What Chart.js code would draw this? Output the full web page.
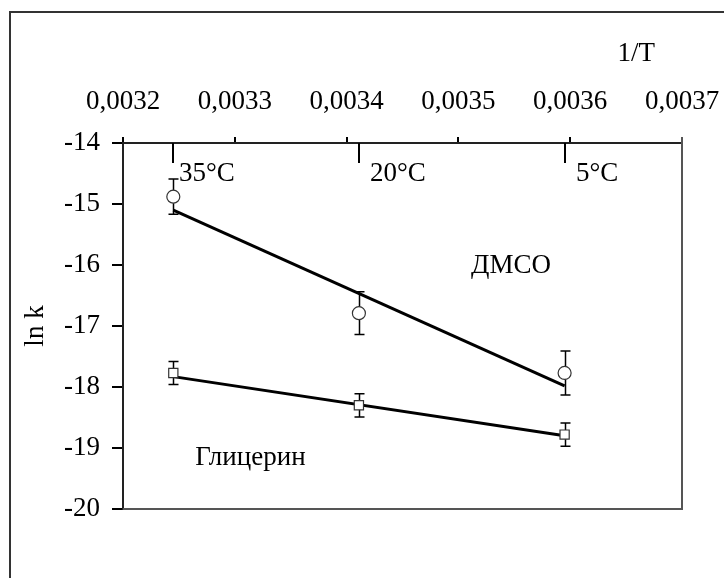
<!DOCTYPE html>
<html>
<head>
<meta charset="utf-8">
<script src="https://cdn.jsdelivr.net/npm/chart.js@4"></script>
<style>
  html, body { margin: 0; padding: 0; background: #fff; overflow: hidden; }
  #wrap { position: relative; width: 724px; height: 578px; }
  #frame { position: absolute; left: 9px; top: 11px; width: 800px; height: 700px;
           border-left: 2px solid #333; border-top: 2px solid #333; pointer-events: none; }
</style>
</head>
<body>
<div id="wrap">
  <canvas id="graph" width="724" height="578"></canvas>
  <div id="frame"></div>
</div>
<script>
// 1/T for the three temperatures
let invT = [0.003245, 0.003411, 0.003595];
let tempLabels = ['35°C', '20°C', '5°C'];

// ДМСО
let dmso = [-14.88, -16.79, -17.77];
let dmsoErr = [0.29, 0.35, 0.36];
let dmsoFit = [-15.10, -17.98];

// Глицерин
let glyc = [-17.77, -18.30, -18.78];
let glycErr = [0.19, 0.19, 0.19];
let glycFit = [-17.83, -18.80];

let xTicks = [0.0032, 0.0033, 0.0034, 0.0035, 0.0036, 0.0037];
let yTicks = [-14, -15, -16, -17, -18, -19, -20];

const serif = "'Liberation Serif', 'Times New Roman', serif";
const fs = 27;
Chart.defaults.font.family = serif;
Chart.defaults.color = '#000';

function pts(ys) { return ys.map((y, i) => ({ x: invT[i], y: y })); }
function fitPts(ys) { return [{ x: invT[0], y: ys[0] }, { x: invT[2], y: ys[1] }]; }

// error bars, plot frame, temperature marks and labels
const extras = {
    id: 'extras',
    beforeDatasetsDraw(chart) {
        const c = chart.ctx, xs = chart.scales.x, ys = chart.scales.y;
        c.save();
        c.strokeStyle = '#000';
        c.lineWidth = 1.5;
        [[dmso, dmsoErr], [glyc, glycErr]].forEach(([vals, errs]) => {
            vals.forEach((v, i) => {
                let px = Math.round(xs.getPixelForValue(invT[i])) + 0.5;
                let top = ys.getPixelForValue(v + errs[i]);
                let bot = ys.getPixelForValue(v - errs[i]);
                c.beginPath();
                c.moveTo(px, top); c.lineTo(px, bot);
                c.moveTo(px - 5, top); c.lineTo(px + 5, top);
                c.moveTo(px - 5, bot); c.lineTo(px + 5, bot);
                c.stroke();
            });
        });
        c.restore();
    },
    afterDraw(chart) {
        const c = chart.ctx, a = chart.chartArea, xs = chart.scales.x, ys = chart.scales.y;
        c.save();
        // right and bottom border of plot
        c.strokeStyle = '#555';
        c.lineWidth = 2;
        c.beginPath();
        c.moveTo(a.left, a.bottom); c.lineTo(a.right, a.bottom); c.lineTo(a.right, a.top - 6);
        c.stroke();
        // temperature ticks pointing into the plot
        c.strokeStyle = '#000';
        c.lineWidth = 2;
        c.font = fs + 'px ' + serif;
        c.fillStyle = '#000';
        c.textBaseline = 'middle';
        invT.forEach((t, i) => {
            let px = Math.round(xs.getPixelForValue(t));
            c.beginPath();
            c.moveTo(px, a.top); c.lineTo(px, a.top + 20);
            c.stroke();
            c.textAlign = 'left';
            c.fillText(tempLabels[i], px + (i == 0 ? 6 : 11), a.top + 31);
        });
        c.textAlign = 'center';
        c.fillText('ДМСО', xs.getPixelForValue(0.003547), ys.getPixelForValue(-16.02));
        c.fillText('Глицерин', xs.getPixelForValue(0.003314), ys.getPixelForValue(-19.17));
        c.fillText('1/T', xs.getPixelForValue(0.003659), a.top - 89);
        c.restore();
    }
};

var ctx = document.getElementById('graph');

var datos = {
    datasets: [
        {
            label: 'ДМСО',
            data: pts(dmso),
            pointStyle: 'circle',
            pointRadius: 6.5,
            pointBorderWidth: 1.2,
            pointBorderColor: '#333',
            pointBackgroundColor: '#fff',
            showLine: false,
            order: 1
        },
        {
            label: 'Глицерин',
            data: pts(glyc),
            pointStyle: 'rect',
            pointRadius: 6.5,
            pointBorderWidth: 1.2,
            pointBorderColor: '#333',
            pointBackgroundColor: '#fff',
            showLine: false,
            order: 1
        },
        {
            label: 'fit ДМСО',
            data: fitPts(dmsoFit),
            showLine: true,
            borderColor: '#000',
            borderWidth: 3,
            pointRadius: 0,
            order: 2
        },
        {
            label: 'fit Глицерин',
            data: fitPts(glycFit),
            showLine: true,
            borderColor: '#000',
            borderWidth: 3,
            pointRadius: 0,
            order: 2
        }
    ]
};

const config = {
    type: 'scatter',
    data: datos,
    plugins: [extras],
    options: {
        responsive: false,
        animation: false,
        layout: { padding: { left: 0, top: 0, right: 42, bottom: 69 } },
        plugins: { legend: { display: false }, tooltip: { enabled: false } },
        scales: {
            x: {
                type: 'linear',
                position: 'top',
                min: xTicks[0],
                max: xTicks[xTicks.length - 1],
                afterBuildTicks: (s) => { s.ticks = xTicks.map(v => ({ value: v })); },
                afterFit: (s) => { s.height = 143; s.paddingLeft = 0; s.paddingRight = 0; },
                ticks: {
                    font: { size: fs },
                    padding: 19,
                    maxRotation: 0,
                    callback: (v) => v.toFixed(4).replace('.', ',')
                },
                grid: { drawOnChartArea: false, drawTicks: true, tickLength: 6, color: '#000', lineWidth: 2 },
                border: { display: true, color: '#222', width: 2 }
            },
            y: {
                type: 'linear',
                min: -20,
                max: -14,
                afterBuildTicks: (s) => { s.ticks = yTicks.map(v => ({ value: v })); },
                afterFit: (s) => { s.width = 123; },
                ticks: {
                    font: { size: fs },
                    padding: 12,
                    callback: (v) => String(v)
                },
                title: {
                    display: true,
                    text: 'ln k',
                    font: { size: fs },
                    padding: { top: 20, bottom: 0 }
                },
                grid: { drawOnChartArea: false, drawTicks: true, tickLength: 11, color: '#000', lineWidth: 2 },
                border: { display: true, color: '#222', width: 2 }
            }
        }
    }
};

var myChart = new Chart(ctx, config);
</script>
</body>
</html>
